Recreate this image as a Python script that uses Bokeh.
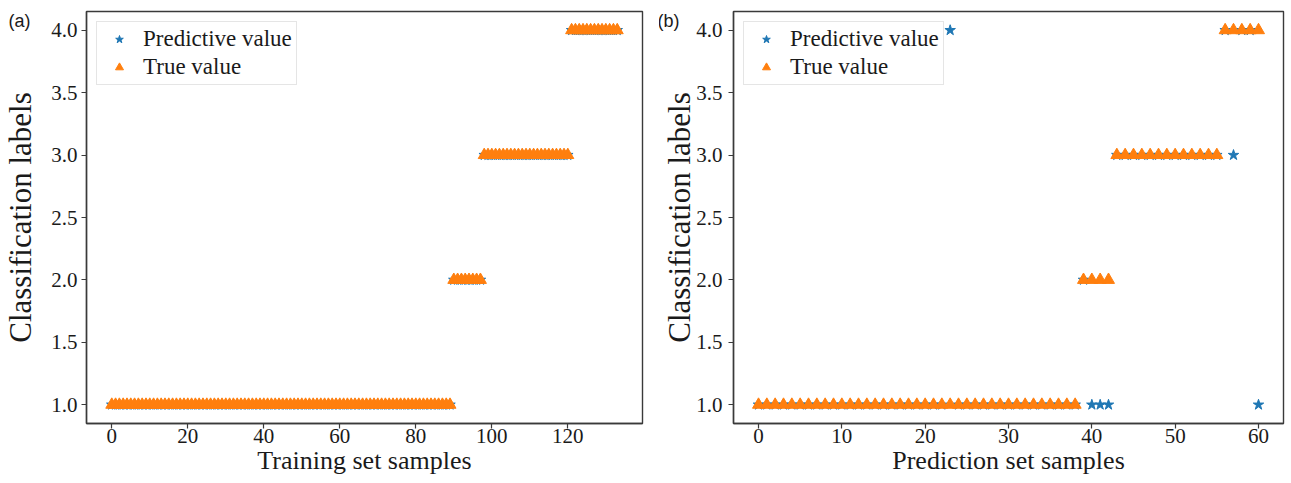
from bokeh.plotting import figure
from bokeh.layouts import row
from bokeh.models import Range1d, FixedTicker, PrintfTickFormatter, ColumnDataSource
from bokeh.embed import file_html
from bokeh.resources import INLINE

# ---------------- data ----------------
train_true = [1.0] * 90 + [2.0] * 8 + [3.0] * 23 + [4.0] * 13
train_pred = [1.0] * 90 + [2.0] * 8 + [3.0] * 23 + [4.0] * 13

test_true = [1.0] * 39 + [2.0] * 4 + [3.0] * 13 + [4.0] * 5
test_pred = ([1.0] * 23 + [4.0] + [1.0] * 15 + [2.0] + [1.0] * 3
             + [3.0] * 13 + [4.0, 3.0, 4.0, 4.0, 1.0])

y_ticks = [1.0, 1.5, 2.0, 2.5, 3.0, 3.5, 4.0]
x_ticks_a = [0, 20, 40, 60, 80, 100, 120]
x_ticks_b = [0, 10, 20, 30, 40, 50, 60]

BLUE = "#1f77b4"
ORANGE = "#ff7f0e"
SERIF = "Liberation Serif"
FRAME = "#3a3a3a"
TXT = "#1a1a1a"


def make_panel(true_vals, pred_vals, xr, xticks, xlabel, panel_label, width,
               left_border, right_border, ytick_standoff, ylabel_standoff, label_offset):
    n = len(true_vals)
    src = ColumnDataSource(dict(x=list(range(n)), t=true_vals, p=pred_vals))
    p = figure(width=width, height=483, x_range=Range1d(*xr), y_range=Range1d(0.85, 4.15),
               output_backend="svg", toolbar_location=None,
               min_border_left=left_border, min_border_right=right_border,
               min_border_top=11, min_border_bottom=60)
    p.scatter("x", "p", source=src, marker="star", size=11, color=BLUE,
              legend_label="Predictive value")
    p.scatter("x", "t", source=src, marker="triangle", size=12, color=ORANGE,
              legend_label="True value")

    p.grid.visible = False
    p.outline_line_color = FRAME
    p.outline_line_width = 1.4
    p.background_fill_color = "white"
    p.border_fill_color = "white"

    for ax in (p.xaxis[0], p.yaxis[0]):
        ax.axis_line_color = FRAME
        ax.axis_line_width = 1.4
        ax.major_tick_line_color = FRAME
        ax.major_tick_line_width = 1.2
        ax.major_tick_out = 5
        ax.major_tick_in = 0
        ax.minor_tick_line_color = None
        ax.major_label_text_font = SERIF
        ax.major_label_text_font_size = "21px"
        ax.major_label_text_color = TXT
        ax.axis_label_text_font = SERIF
        ax.axis_label_text_font_style = "normal"
        ax.axis_label_text_color = TXT

    p.xaxis.ticker = FixedTicker(ticks=xticks)
    p.xaxis.axis_label = xlabel
    p.xaxis.axis_label_text_font_size = "26px"
    p.xaxis.major_label_standoff = 0
    p.xaxis.axis_label_standoff = 0

    p.yaxis.ticker = FixedTicker(ticks=y_ticks)
    p.yaxis.formatter = PrintfTickFormatter(format="%.1f")
    p.yaxis.axis_label = "Classification labels"
    p.yaxis.axis_label_text_font_size = "31px"
    p.yaxis.major_label_standoff = ytick_standoff
    p.yaxis.axis_label_standoff = ylabel_standoff

    lg = p.legend[0]
    lg.location = "top_left"
    lg.label_text_font = SERIF
    lg.label_text_font_size = "23px"
    lg.label_text_color = TXT
    lg.glyph_width = 36
    lg.glyph_height = 20
    lg.label_height = 20
    lg.label_standoff = 6
    lg.spacing = 2
    lg.padding = 4
    lg.margin = 10
    lg.border_line_color = "#cccccc"
    lg.border_line_width = 1
    lg.background_fill_alpha = 0.85

    # panel letter, drawn as a left-aligned title pulled into the top-left corner
    p.title.text = panel_label
    p.title.align = "left"
    p.title.offset = label_offset
    p.title.text_font = "Liberation Sans"
    p.title.text_font_size = "18px"
    p.title.text_font_style = "normal"
    p.title.text_color = TXT
    p.title.vertical_align = "bottom"
    p.title.standoff = -38
    return p


p1 = make_panel(train_true, train_pred, (-6.65, 139.65), x_ticks_a, "Training set samples",
                "(a)", 659, 86, 17, 4, 10, -78)
p2 = make_panel(test_true, test_pred, (-3.0, 63.0), x_ticks_b, "Prediction set samples",
                "(b)", 632, 74, 8, 6, -4, -76)

layout = row(p1, p2)
open("out.html", "w").write(file_html(layout, INLINE))
